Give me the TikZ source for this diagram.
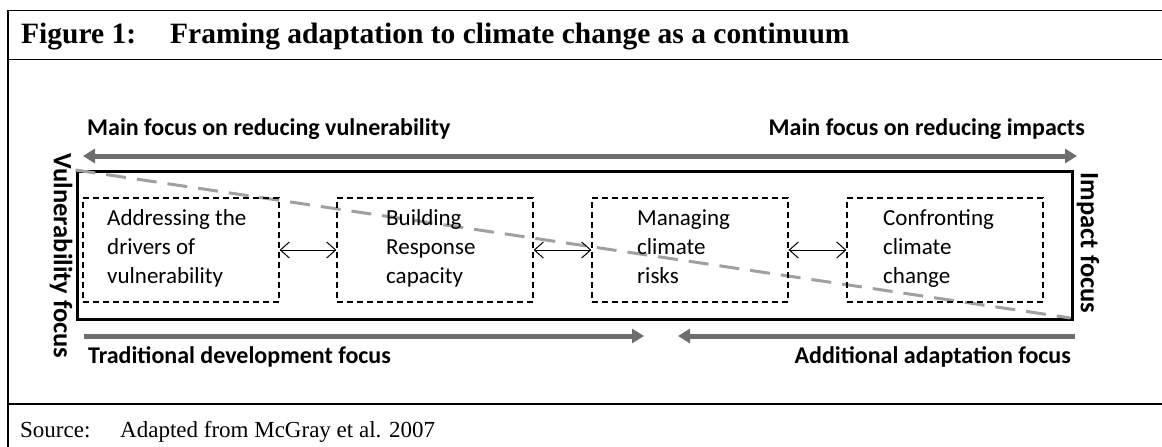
\documentclass[tikz,border=0pt]{standalone}
\usepackage{fontspec}
\setmainfont{Liberation Serif}
\newfontfamily\calibrifont{Carlito}
\usetikzlibrary{arrows.meta}
\definecolor{arrowgray}{RGB}{110,110,110}
\definecolor{dashgray}{RGB}{160,160,160}
\tikzset{
  frameline/.style={line width=1.6pt, black},
  bigarrow/.style={line width=5pt, arrowgray},
  stepbox/.style={draw, dashed, dash pattern=on 6pt off 4pt, line width=1.2pt,
    minimum width=196pt, minimum height=104pt, inner sep=0pt},
  boxtext/.style={align=left, inner sep=0pt, anchor=west,
    font=\calibrifont\fontsize{23}{29}\selectfont},
  linkarrow/.style={line width=1pt, {Straight Barb[length=9pt,width=16pt]}-{Straight Barb[length=9pt,width=16pt]}},
  boldlabel/.style={font=\calibrifont\bfseries\fontsize{24}{28}\selectfont, inner sep=0pt},
  sidelabel/.style={font=\calibrifont\bfseries\fontsize{26.5}{30}\selectfont, inner sep=0pt, rotate=-90},
}
\begin{document}
\begin{tikzpicture}[x=1pt,y=-1pt]
\useasboundingbox (0,0) rectangle (1162,447);
% outer frame
\draw[frameline] (8,447) -- (8,10.5) -- (1162,10.5);
\draw[frameline] (8,59.5) -- (1162,59.5);
\draw[frameline] (8,404) -- (1162,404);
% title
\node[anchor=base west, inner sep=0pt, font=\bfseries\fontsize{29.5}{34}\selectfont] (fig) at (21,43) {Figure 1:};
\node[anchor=base west, inner sep=0pt, font=\bfseries\fontsize{29.5}{34}\selectfont] (title) at (170,43) {Framing adaptation to climate change as a continuum};
% source
\node[anchor=base west, inner sep=0pt, font=\fontsize{23}{28}\selectfont] (src) at (20,437) {Source:};
\node[anchor=base west, inner sep=0pt, font=\fontsize{23}{28}\selectfont] (srctext) at (120,437) {Adapted from McGray et al. 2007};
% main inner box
\node[draw, line width=3pt, minimum width=995pt, minimum height=148pt, inner sep=0pt] (frame) at (574.5,245.5) {};
% dashed diagonal
\draw[dashgray, line width=3pt, dash pattern=on 20pt off 11pt] (frame.north west) -- ([xshift=-3pt,yshift=3pt]frame.south east);
% top labels and arrow
\node[boldlabel, anchor=base west] (lv) at (87,135) {Main focus on reducing vulnerability};
\node[boldlabel, anchor=base east] (li) at (1085,135) {Main focus on reducing impacts};
\coordinate (tl) at (83,156);
\coordinate (tr) at (1077,156);
\draw[bigarrow, {Triangle[length=12pt,width=14pt]}-{Triangle[length=12pt,width=14pt]}] (tl) -- (tr);
% side labels
\node[sidelabel] (vf) at (61,256) {Vulnerability focus};
\node[sidelabel] (imf) at (1088,243) {Impact focus};
% step boxes
\node[stepbox] (b1) at (181,250) {};
\node[stepbox] (b2) at (435,250) {};
\node[stepbox] (b3) at (690,250) {};
\node[stepbox] (b4) at (945,250) {};
\node[boxtext] (t1) at (107,249) {\strut Addressing the\\drivers of\\vulnerability\strut};
\node[boxtext] (t2) at (386,249) {\strut Building\\Response\\capacity\strut};
\node[boxtext] (t3) at (637,249) {\strut Managing\\climate\\risks\strut};
\node[boxtext] (t4) at (883,249) {\strut Confronting\\climate\\change\strut};
\draw[linkarrow] (b1.east) -- (b2.west);
\draw[linkarrow] (b2.east) -- (b3.west);
\draw[linkarrow] (b3.east) -- (b4.west);
% bottom arrows and labels
\coordinate (bl) at (84,336);
\coordinate (bm1) at (644,336);
\coordinate (bm2) at (678,336);
\coordinate (br) at (1075,336);
\draw[bigarrow, -{Triangle[length=12pt,width=14pt]}] (bl) -- (bm1);
\draw[bigarrow, -{Triangle[length=12pt,width=14pt]}] (br) -- (bm2);
\node[boldlabel, anchor=base west] (td) at (88,363) {Traditional development focus};
\node[boldlabel, anchor=base east] (ad) at (1071,363) {Additional adaptation focus};
\end{tikzpicture}
\end{document}
